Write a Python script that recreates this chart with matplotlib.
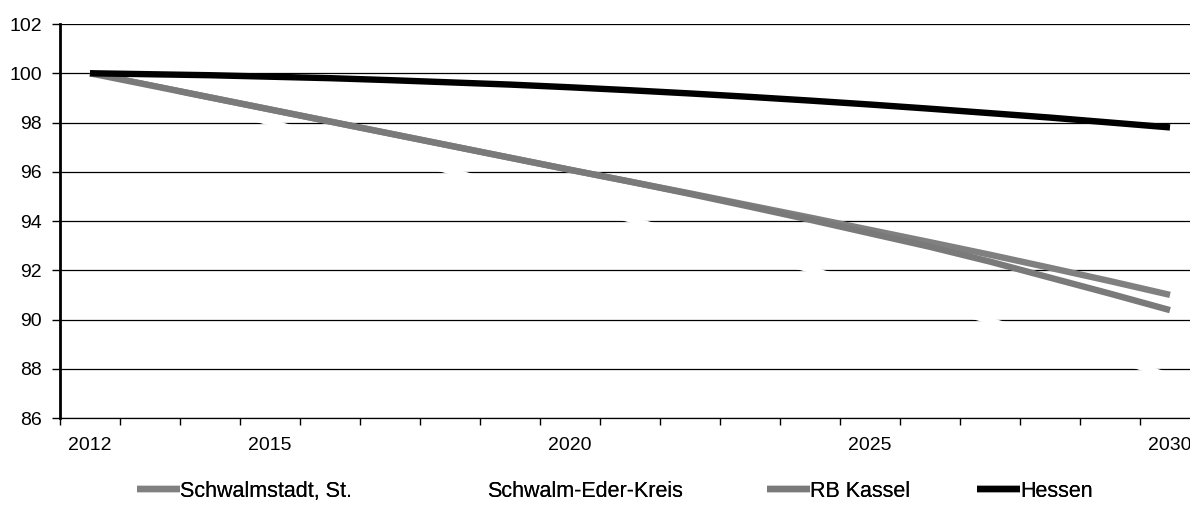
import matplotlib
matplotlib.use("Agg")
import matplotlib.pyplot as plt
from matplotlib.ticker import FixedLocator

plt.rcParams['font.family'] = ['Liberation Sans', 'DejaVu Sans']

years = list(range(2012, 2031))

# index values, 2012 = 100
schwalmstadt = [100.00, 99.51, 99.02, 98.53, 98.04, 97.55, 97.06, 96.57, 96.08, 95.60,
                95.12, 94.63, 94.14, 93.64, 93.14, 92.63, 92.10, 91.56, 91.00]
schwalm_eder = [100.00, 99.33, 98.67, 98.00, 97.35, 96.69, 96.03, 95.38, 94.73, 94.07,
                93.37, 92.70, 92.03, 91.33, 90.64, 89.95, 89.22, 88.46, 87.70]
rb_kassel = [100.00, 99.51, 99.02, 98.53, 98.04, 97.55, 97.06, 96.57, 96.08, 95.60,
             95.10, 94.58, 94.05, 93.50, 92.95, 92.35, 91.70, 91.05, 90.38]
hessen = [100.00, 99.96, 99.92, 99.86, 99.80, 99.72, 99.63, 99.54, 99.43, 99.31,
          99.18, 99.04, 98.89, 98.73, 98.56, 98.38, 98.20, 98.00, 97.80]

labels = ["Schwalmstadt, St.", "Schwalm-Eder-Kreis", "RB Kassel", "Hessen"]
colors = ["#808080", "#ffffff", "#7a7a7a", "#000000"]
label_years = [2012, 2015, 2020, 2025, 2030]

fig = plt.figure(figsize=(11.9, 5.11), dpi=100)
ax = fig.add_axes([60 / 1190, 1 - 418 / 511, 1140 / 1190, 394 / 511])

series = [schwalmstadt, schwalm_eder, rb_kassel, hessen]
handles = []
for vals, col, lab in zip(series, colors, labels):
    ln, = ax.plot(years, vals, color=col, lw=4.6, solid_capstyle='butt', zorder=3, label=lab)
    handles.append(ln)

ax.set_xlim(2011.5, 2030.5)
ax.set_ylim(86, 102)
ax.set_yticks(range(86, 103, 2))
ax.set_xticks(label_years)
ax.xaxis.set_minor_locator(FixedLocator([y - 0.5 for y in years] + [2030.5]))
ax.tick_params(axis='x', which='major', length=0, pad=14, labelsize=14)
ax.tick_params(axis='x', which='minor', length=5, width=1, direction='out')
ax.tick_params(axis='y', length=6, width=1, pad=7, labelsize=14)

ax.grid(axis='y', color='black', lw=0.9, zorder=1)
ax.set_axisbelow(True)
for s in ['top', 'right']:
    ax.spines[s].set_visible(False)
ax.spines['left'].set_linewidth(2)
ax.spines['bottom'].set_linewidth(0.9)

# four separate legend entries, like the original layout
starts = [137, 444, 767, 977]
for h, x0 in zip(handles, starts):
    leg = fig.legend(handles=[h], loc='center left', bbox_to_anchor=(x0 / 1190, 1 - 491 / 511),
                     frameon=False, fontsize=15.5, handlelength=2.0, handletextpad=0.0,
                     borderpad=0, borderaxespad=0)
    fig.add_artist(leg)

fig.savefig("out.png", dpi=100)
plt.close()
